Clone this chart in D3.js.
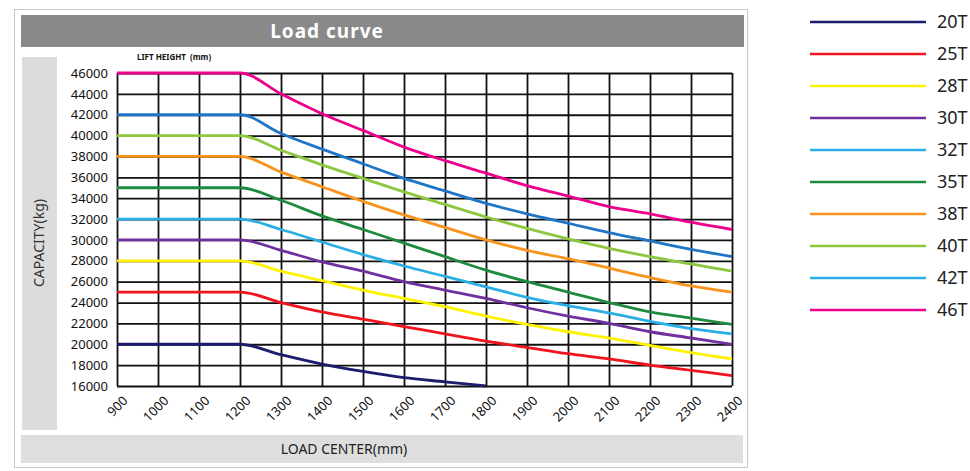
<!DOCTYPE html>
<html>
<head>
<meta charset="utf-8">
<script src="https://cdn.jsdelivr.net/npm/d3@7"></script>
<style>
  body { margin: 0; background: #fff; }
  svg { display: block; font-family: "Noto Sans", sans-serif; }
</style>
</head>
<body>
<main></main>
<script>
// data
const loadCenters = [900, 1000, 1100, 1200, 1300, 1400, 1500, 1600, 1700, 1800, 1900, 2000, 2100, 2200, 2300, 2400];
const yTicks = [16000, 18000, 20000, 22000, 24000, 26000, 28000, 30000, 32000, 34000, 36000, 38000, 40000, 42000, 44000, 46000];
const seriesNames = ["20T", "25T", "28T", "30T", "32T", "35T", "38T", "40T", "42T", "46T"];

const cap20T = [20000, 20000, 20000, 20000, 19000, 18100, 17400, 16800, 16400, 16000];
const cap25T = [25000, 25000, 25000, 25000, 24000, 23100, 22400, 21700, 21000, 20300, 19700, 19100, 18600, 18000, 17500, 17000];
const cap28T = [28000, 28000, 28000, 28000, 27000, 26100, 25200, 24400, 23600, 22700, 21900, 21200, 20600, 19900, 19200, 18600];
const cap30T = [30000, 30000, 30000, 30000, 29000, 27900, 27000, 26000, 25200, 24400, 23500, 22700, 22000, 21200, 20600, 20000];
const cap32T = [32000, 32000, 32000, 32000, 31000, 29800, 28600, 27500, 26500, 25500, 24500, 23700, 23000, 22200, 21500, 21000];
const cap35T = [35000, 35000, 35000, 35000, 33800, 32300, 31000, 29700, 28400, 27100, 26000, 25000, 24000, 23100, 22500, 21900];
const cap38T = [38000, 38000, 38000, 38000, 36500, 35100, 33700, 32400, 31200, 30000, 29000, 28200, 27300, 26400, 25600, 25000];
const cap40T = [40000, 40000, 40000, 40000, 38600, 37200, 35900, 34600, 33400, 32200, 31100, 30100, 29200, 28400, 27700, 27000];
const cap42T = [42000, 42000, 42000, 42000, 40200, 38700, 37300, 35900, 34700, 33500, 32500, 31600, 30700, 29900, 29100, 28400];
const cap46T = [46000, 46000, 46000, 46000, 44000, 42100, 40500, 38900, 37600, 36400, 35200, 34200, 33200, 32500, 31700, 31000];

const lineColors = ["#1b1c6c", "#f0141e", "#fff200", "#7030a0", "#29aee6", "#1d8a3e", "#f7941d", "#8dc63f", "#1f76c6", "#ec008c"];
const legendColors = ["#1b1c6c", "#f0141e", "#fff200", "#7030a0", "#29aee6", "#1d8a3e", "#f7941d", "#8dc63f", "#29aee6", "#ec008c"];

const allCaps = [cap20T, cap25T, cap28T, cap30T, cap32T, cap35T, cap38T, cap40T, cap42T, cap46T];
const series = seriesNames.map((name, i) => ({
  name: name,
  color: lineColors[i],
  legendColor: legendColors[i],
  points: allCaps[i].map((v, j) => ({ x: loadCenters[j], y: v }))
}));

// Set up the display area
const W = 970, H = 471;
const svg = d3.select("main").append("svg")
  .attr("width", W)
  .attr("height", H);

// outer frame, title bar and label bars
svg.append("rect")
  .attr("x", 14.5).attr("y", 9.5).attr("width", 733).attr("height", 458)
  .attr("fill", "#fff").attr("stroke", "#c8c8c8");

svg.append("rect")
  .attr("x", 21).attr("y", 15).attr("width", 723).attr("height", 32)
  .attr("fill", "#898989");

svg.append("text")
  .attr("x", 327).attr("y", 38)
  .attr("text-anchor", "middle")
  .attr("fill", "#fff")
  .attr("font-size", 19)
  .attr("font-weight", "bold")
  .attr("letter-spacing", 1)
  .text("Load curve");

svg.append("rect")
  .attr("x", 22).attr("y", 57).attr("width", 35).attr("height", 373)
  .attr("fill", "#dcdcdc");

svg.append("rect")
  .attr("x", 21).attr("y", 435).attr("width", 722).attr("height", 28)
  .attr("fill", "#dedede");

svg.append("text")
  .attr("transform", "translate(44, 243) rotate(-90)")
  .attr("text-anchor", "middle")
  .attr("fill", "#333")
  .attr("font-size", 14)
  .text("CAPACITY(kg)");

svg.append("text")
  .attr("x", 344).attr("y", 454)
  .attr("text-anchor", "middle")
  .attr("fill", "#222")
  .attr("font-size", 14)
  .text("LOAD CENTER(mm)");

svg.append("text")
  .attr("x", 137).attr("y", 60)
  .attr("fill", "#111")
  .attr("font-size", 8)
  .attr("font-weight", "bold")
  .style("white-space", "pre")
  .text("LIFT HEIGHT  (mm)");

// scales
const plot = { left: 117, right: 732, top: 73, bottom: 386 };
const x = d3.scaleLinear().domain([900, 2400]).range([plot.left, plot.right]);
const y = d3.scaleLinear().domain([16000, 46000]).range([plot.bottom, plot.top]);

const g = svg.append("g");

// grid lines through the axes
const xGrid = g.append("g")
  .attr("transform", `translate(0, ${plot.bottom})`)
  .call(d3.axisBottom(x).tickValues(loadCenters).tickSize(-(plot.bottom - plot.top)).tickFormat(""));
const yGrid = g.append("g")
  .attr("transform", `translate(${plot.left}, 0)`)
  .call(d3.axisLeft(y).tickValues(yTicks).tickSize(-(plot.right - plot.left)).tickFormat(""));

[xGrid, yGrid].forEach(a => {
  a.select(".domain").remove();
  a.selectAll(".tick line").attr("stroke", "#111").attr("stroke-width", 1.8);
});

// tick labels
const yAxis = g.append("g")
  .attr("transform", `translate(${plot.left}, 0)`)
  .call(d3.axisLeft(y).tickValues(yTicks).tickSize(0).tickPadding(9).tickFormat(d3.format("d")));
yAxis.select(".domain").remove();
yAxis.selectAll("text")
  .attr("font-family", "Noto Sans, sans-serif")
  .attr("font-size", 13)
  .attr("fill", "#111");

const xLabels = g.append("g").selectAll("text")
  .data(loadCenters);

xLabels.enter().append("text")
  .attr("transform", d => `translate(${x(d) + 5}, ${plot.bottom + 9}) rotate(-45)`)
  .attr("text-anchor", "end")
  .attr("dy", "0.7em")
  .attr("font-size", 13)
  .attr("fill", "#111")
  .text(d => d);

// curves
const line = d3.line()
  .x(d => x(d.x))
  .y(d => y(d.y))
  .curve(d3.curveMonotoneX);

g.append("g").selectAll("path")
  .data(series)
  .enter().append("path")
  .attr("d", d => line(d.points))
  .attr("fill", "none")
  .attr("stroke", d => d.color)
  .attr("stroke-width", 2.8);

// legend
const legend = svg.append("g").selectAll("g")
  .data(series)
  .enter().append("g")
  .attr("transform", (d, i) => `translate(0, ${22 + i * 32})`);

legend.append("line")
  .attr("x1", 810).attr("x2", 926)
  .attr("stroke", d => d.legendColor)
  .attr("stroke-width", 2.6);

legend.append("text")
  .attr("x", 937)
  .attr("dy", "0.36em")
  .attr("font-size", 18)
  .attr("fill", "#222")
  .text(d => d.name);
</script>
</body>
</html>
